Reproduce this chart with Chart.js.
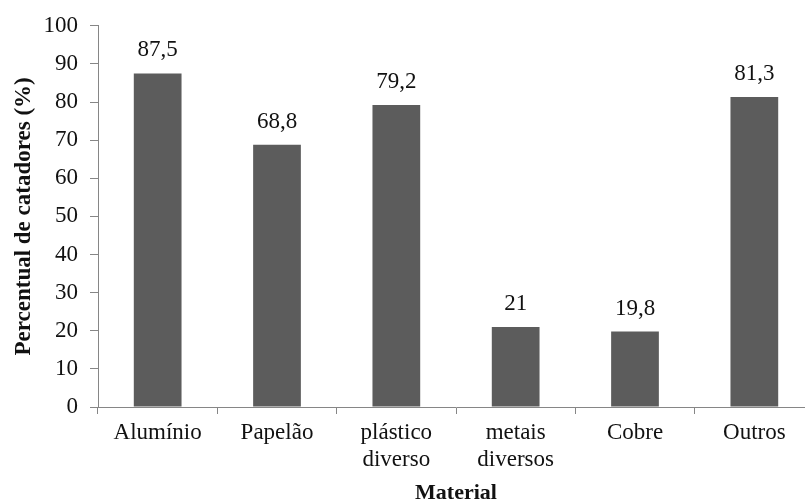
<!DOCTYPE html>
<html>
<head>
<meta charset="utf-8">
<script src="https://cdn.jsdelivr.net/npm/chart.js@4/dist/chart.umd.min.js"></script>
<style>
  html, body { margin: 0; padding: 0; background: #fff; overflow: hidden; }
  #wrap { width: 816px; height: 504px; }
</style>
</head>
<body>
<div id="wrap"><canvas id="chart" width="816" height="504"></canvas></div>
<script>
// Materiais coletados e percentual de catadores
const materiais = [
  'Alumínio',
  'Papelão',
  ['plástico', 'diverso'],
  ['metais', 'diversos'],
  'Cobre',
  'Outros'
];
const percentuais = [87.5, 68.8, 79.2, 21, 19.8, 81.3];
const yTicks = [0, 10, 20, 30, 40, 50, 60, 70, 80, 90, 100];

const FONT = '"Liberation Serif", "Times New Roman", serif';
const AXIS = '#868686';

// Rótulos de valor acima das barras (vírgula decimal)
const valueLabels = {
  id: 'valueLabels',
  afterDatasetsDraw(chart) {
    const ctx = chart.ctx;
    const meta = chart.getDatasetMeta(0);
    const data = chart.data.datasets[0].data;
    ctx.save();
    ctx.font = '23px ' + FONT;
    ctx.fillStyle = '#111';
    ctx.textAlign = 'center';
    ctx.textBaseline = 'middle';
    meta.data.forEach((bar, i) => {
      ctx.fillText(String(data[i]).replace('.', ','), bar.x, bar.y - 23);
    });
    ctx.restore();
  }
};

new Chart(document.getElementById('chart'), {
  type: 'bar',
  data: {
    labels: materiais,
    datasets: [{
      data: percentuais,
      backgroundColor: '#5c5c5c',
      borderWidth: 0,
      categoryPercentage: 0.4,
      barPercentage: 1.0
    }]
  },
  options: {
    responsive: false,
    animation: false,
    devicePixelRatio: 1,
    layout: { padding: { top: 21, right: 2, bottom: 0, left: 0 } },
    plugins: {
      legend: { display: false },
      tooltip: { enabled: false }
    },
    scales: {
      x: {
        offset: true,
        grid: {
          offset: true,
          drawOnChartArea: false,
          drawTicks: true,
          tickLength: 7,
          color: AXIS
        },
        border: { display: true, color: AXIS, width: 1 },
        ticks: {
          color: '#111',
          padding: 6,
          maxRotation: 0,
          autoSkip: false,
          font: { family: FONT, size: 23, lineHeight: 1.15 }
        },
        title: {
          display: true,
          text: 'Material',
          color: '#111',
          padding: 0,
          font: { family: FONT, size: 22, weight: 'bold', lineHeight: 1.0 }
        },
        afterFit(scale) { scale.height = 97; }
      },
      y: {
        min: 0,
        max: 100,
        afterBuildTicks(scale) { scale.ticks = yTicks.map(v => ({ value: v })); },
        grid: {
          drawOnChartArea: false,
          drawTicks: true,
          tickLength: 8,
          color: AXIS
        },
        border: { display: true, color: AXIS, width: 1 },
        ticks: {
          color: '#111',
          padding: 12,
          font: { family: FONT, size: 23 }
        },
        title: {
          display: true,
          text: 'Percentual de catadores (%)',
          color: '#111',
          padding: { top: 10, bottom: 0 },
          font: { family: FONT, size: 23, weight: 'bold', lineHeight: 1.2 }
        },
        afterFit(scale) { scale.width = 98; }
      }
    }
  },
  plugins: [valueLabels]
});
</script>
</body>
</html>
